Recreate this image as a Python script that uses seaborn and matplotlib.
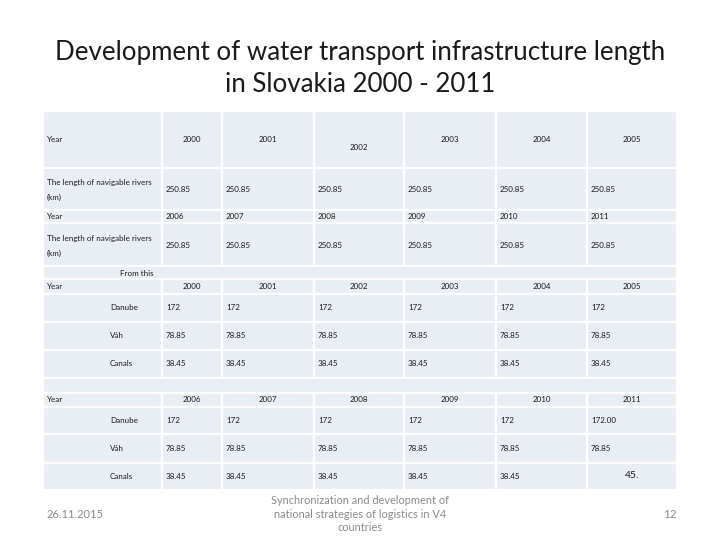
import matplotlib
matplotlib.use("Agg")
import matplotlib.pyplot as plt
from matplotlib.patches import Rectangle
import seaborn as sns

# table content
years_a = ["2000", "2001", "2002", "2003", "2004", "2005"]
years_b = ["2006", "2007", "2008", "2009", "2010", "2011"]
rivers_a = ["250.85", "250.85", "250.85", "250.85", "250.85", "250.85"]
rivers_b = ["250.85", "250.85", "250.85", "250.85", "250.85", "250.85"]
danube_a = ["172", "172", "172", "172", "172", "172"]
vah_a = ["78.85", "78.85", "78.85", "78.85", "78.85", "78.85"]
canals_a = ["38.45", "38.45", "38.45", "38.45", "38.45", "38.45"]
danube_b = ["172", "172", "172", "172", "172", "172.00"]
vah_b = ["78.85", "78.85", "78.85", "78.85", "78.85", "78.85"]
canals_b = ["38.45", "38.45", "38.45", "38.45", "38.45", "45."]
rivers = ["Danube", "Váh", "Canals"]

title = "Development of water transport infrastructure length\nin Slovakia 2000 - 2011"
footer_left = "26.11.2015"
footer_mid = "Synchronization and development of\nnational strategies of logistics in V4\ncountries"
footer_right = "12"

sns.set_theme(style="white")
plt.rcParams['font.family'] = ['Lato', 'DejaVu Sans']

cell_col = "#e9edf4"
txt_col = "#1a1a1a"
grey = "#8a8a8a"
small = 5.8

fig = plt.figure(figsize=(7.2, 5.4), dpi=100)
ax = fig.add_axes([0, 0, 1, 1])
ax.set_xlim(0, 720)
ax.set_ylim(540, 0)
ax.axis("off")

col_edges = [43, 162, 222, 314, 404, 496, 587, 677]


def cell(x0, x1, y0, y1):
    ax.add_patch(Rectangle((x0, y0), x1 - x0, y1 - y0, facecolor=cell_col,
                           edgecolor="white", linewidth=1.6))


def grid_row(y0, y1):
    for i in range(len(col_edges) - 1):
        cell(col_edges[i], col_edges[i + 1], y0, y1)


def t(x, y, s, ha="left", size=small, **kw):
    ax.text(x, y, s, ha=ha, va="center", fontsize=size, color=txt_col, **kw)


# --- upper block ---
grid_row(111, 168)
t(47, 140, "Year")
for i, yr in enumerate(years_a):
    cx = (col_edges[i + 1] + col_edges[i + 2]) / 2
    t(cx, 147 if yr == "2002" else 140, yr, ha="center")

grid_row(168, 210)
t(47, 182, "The length of navigable rivers")
t(47, 197, "(km)")
for i, v in enumerate(rivers_a):
    t(col_edges[i + 1] + 4, 189, v)

grid_row(210, 223)
t(47, 216.5, "Year")
for i, yr in enumerate(years_b):
    t(col_edges[i + 1] + 4, 216.5, yr)

grid_row(223, 266)
t(47, 238, "The length of navigable rivers")
t(47, 253, "(km)")
for i, v in enumerate(rivers_b):
    t(col_edges[i + 1] + 4, 245, v)

cell(col_edges[0], col_edges[-1], 266, 279)
t(120, 273, "From this")


def sub_block(y_year, rows_y, years, vals):
    grid_row(*y_year)
    ym = sum(y_year) / 2
    t(47, ym, "Year")
    for i, yr in enumerate(years):
        cx = (col_edges[i + 1] + col_edges[i + 2]) / 2
        t(cx, ym, yr, ha="center")
    for (y0, y1), name, row in zip(rows_y, rivers, vals):
        grid_row(y0, y1)
        ym = (y0 + y1) / 2
        t(110, ym, name)
        for i, v in enumerate(row):
            if v == "45.":
                cx = (col_edges[i + 1] + col_edges[i + 2]) / 2
                t(cx, ym - 1, v, ha="center", size=7.5)
            else:
                t(col_edges[i + 1] + 4, ym, v)


sub_block((279, 294), [(294, 322), (322, 350), (350, 378)],
          years_a, [danube_a, vah_a, canals_a])
cell(col_edges[0], col_edges[-1], 378, 393)
sub_block((393, 407), [(407, 434), (434, 463), (463, 490)],
          years_b, [danube_b, vah_b, canals_b])

# title and footer
ax.text(360, 68.5, title, ha="center", va="center", fontsize=18.6,
        color="#1a1a1a", linespacing=1.33)
ax.text(47, 515, footer_left, ha="left", va="center", fontsize=8, color=grey)
ax.text(360, 514, footer_mid, ha="center", va="center", fontsize=7.9,
        color=grey, linespacing=1.3)
ax.text(677, 515, footer_right, ha="right", va="center", fontsize=8.5, color=grey)

fig.savefig("out.png", dpi=100)
